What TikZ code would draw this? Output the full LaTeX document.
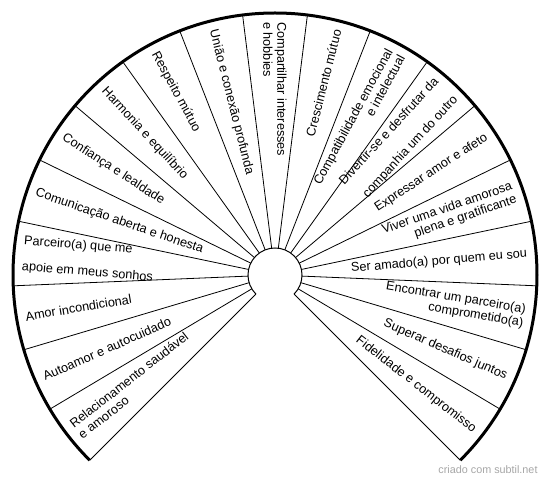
\documentclass[tikz,border=0pt]{standalone}
\usepackage{fontspec}
\setmainfont{Liberation Sans}
\usepackage{tikz}

\tikzset{
  rim/.style={black, line width=3pt},
  spoke/.style={black, line width=0.8pt},
  hub/.style={black, line width=1pt},
  wedgetext/.style={inner sep=0pt, font=\fontsize{12.7}{14}\selectfont},
  lefttext/.style={wedgetext, anchor=west, align=left},
  righttext/.style={wedgetext, anchor=east, align=right}
}

\begin{document}
\begin{tikzpicture}[x=1pt,y=1pt]
  \useasboundingbox (0,0) rectangle (550,482);
  \coordinate (c) at (275,207);

  % outer rim and hub
  \draw[rim] ([shift={(225:262)}]c) arc (225:-45:262);
  \draw[hub] ([shift={(225:27)}]c) arc (225:-45:27);

  % spokes between the wedges
  \foreach \k in {0,...,19} {
    \pgfmathsetmacro{\ang}{225-\k*270/19}
    \draw[spoke] ([shift={(\ang:27)}]c) -- ([shift={(\ang:262)}]c);
  }

  % left half labels
  \foreach \i/\txt in {
      0/{Relacionamento saudável\\e amoroso},
      1/{Autoamor e autocuidado},
      2/{Amor incondicional},
      3/{Parceiro(a) que me\\[12pt]apoie em meus sonhos},
      4/{Comunicação aberta e honesta},
      5/{Confiança e lealdade},
      6/{Harmonia e equilíbrio},
      7/{Respeito mútuo},
      8/{União e conexão profunda},
      9/{Compartilhar interesses\\e hobbies}} {
    \pgfmathsetmacro{\ang}{225-(\i+0.5)*270/19}
    \node[lefttext, rotate=\ang+180] (l\i) at ([shift={(\ang:253)}]c) {\txt};
  }

  % right half labels
  \foreach \i/\txt in {
      10/{Crescimento mútuo},
      11/{Compatibilidade emocional\\e intelectual},
      12/{Divertir-se e desfrutar da\\[12pt]companhia um do outro},
      13/{Expressar amor e afeto},
      14/{Viver uma vida amorosa\\plena e gratificante},
      15/{Ser amado(a) por quem eu sou},
      16/{Encontrar um parceiro(a)\\comprometido(a)},
      17/{Superar desafios juntos},
      18/{Fidelidade e compromisso}} {
    \pgfmathsetmacro{\ang}{225-(\i+0.5)*270/19}
    \node[righttext, rotate=\ang] (l\i) at ([shift={(\ang:253)}]c) {\txt};
  }

  \node[font=\fontsize{10.8}{12}\selectfont, text=black!35] (credit) at (488,12) {criado com subtil.net};
\end{tikzpicture}
\end{document}
